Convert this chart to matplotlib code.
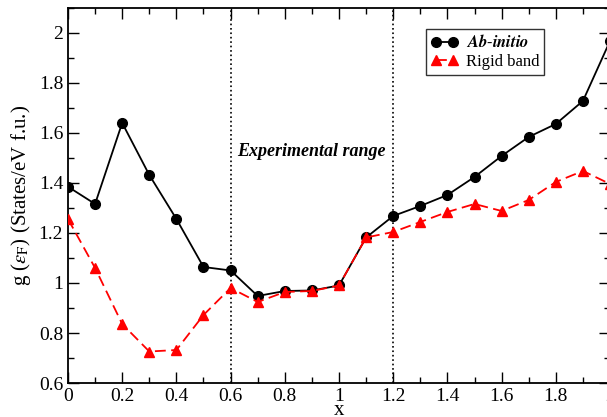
import matplotlib.pyplot as plt
import numpy as np

plt.rcParams['font.family'] = ['Liberation Serif', 'DejaVu Serif']
plt.rcParams['mathtext.fontset'] = 'stix'

x = [0.0, 0.1, 0.2, 0.3, 0.4, 0.5, 0.6, 0.7, 0.8, 0.9, 1.0,
     1.1, 1.2, 1.3, 1.4, 1.5, 1.6, 1.7, 1.8, 1.9, 2.0]
ab_initio = [1.385, 1.316, 1.64, 1.432, 1.256, 1.064, 1.05, 0.948, 0.968, 0.97, 0.99,
             1.182, 1.268, 1.308, 1.352, 1.424, 1.508, 1.584, 1.636, 1.728, 1.968]
rigid_band = [1.256, 1.06, 0.836, 0.726, 0.732, 0.872, 0.98, 0.924, 0.964, 0.968, 0.99,
              1.182, 1.204, 1.244, 1.284, 1.316, 1.288, 1.332, 1.404, 1.448, 1.396]
exp_bounds = [0.6, 1.2]

fig = plt.figure(figsize=(6.07, 4.17), dpi=100)
ax = fig.add_axes([0.112, 0.0815, 0.893, 0.8995])

ax.plot(x, ab_initio, '-o', color='black', lw=1.3, ms=7, label=r'$\boldsymbol{Ab\text{-}initio}$', zorder=3)
ax.plot(x, rigid_band, '--^', color='red', lw=1.3, ms=7, dashes=(6, 3), label='Rigid band', zorder=4)

for b in exp_bounds:
    ax.axvline(b, color='black', ls=':', lw=1.2)

ax.text(0.897, 1.524, 'Experimental range', ha='center', va='center',
        fontsize=13, fontweight='bold', fontstyle='italic')

ax.set_xlim(0, 2)
ax.set_ylim(0.6, 2.1)
ax.set_xticks(np.arange(0, 2.01, 0.2))
ax.set_xticklabels(['0', '0.2', '0.4', '0.6', '0.8', '1', '1.2', '1.4', '1.6', '1.8', '2'])
ax.set_xticks(np.arange(0, 2.01, 0.1), minor=True)
ax.set_yticks(np.arange(0.6, 2.01, 0.2))
ax.set_yticklabels(['0.6', '0.8', '1', '1.2', '1.4', '1.6', '1.8', '2'])
ax.set_yticks(np.arange(0.6, 2.11, 0.1), minor=True)
ax.tick_params(which='both', direction='in', top=True, right=True, labelsize=14)
ax.tick_params(which='major', length=8, width=1)
ax.tick_params(which='minor', length=4, width=1)
for s in ax.spines.values():
    s.set_linewidth(1.3)

ax.set_xlabel('x', fontsize=15, labelpad=-3)
ax.set_ylabel(r'g ($\varepsilon_{\rm F}$) (States/eV f.u.)', fontsize=15)

leg = ax.legend(loc='upper left', bbox_to_anchor=(0.645, 0.965), numpoints=2,
                fontsize=12, frameon=True, fancybox=False, edgecolor='black',
                handlelength=1.6, handletextpad=0.5, borderpad=0.3, labelspacing=0.15)
leg.get_frame().set_linewidth(1)

plt.savefig('out.png', dpi=100)
